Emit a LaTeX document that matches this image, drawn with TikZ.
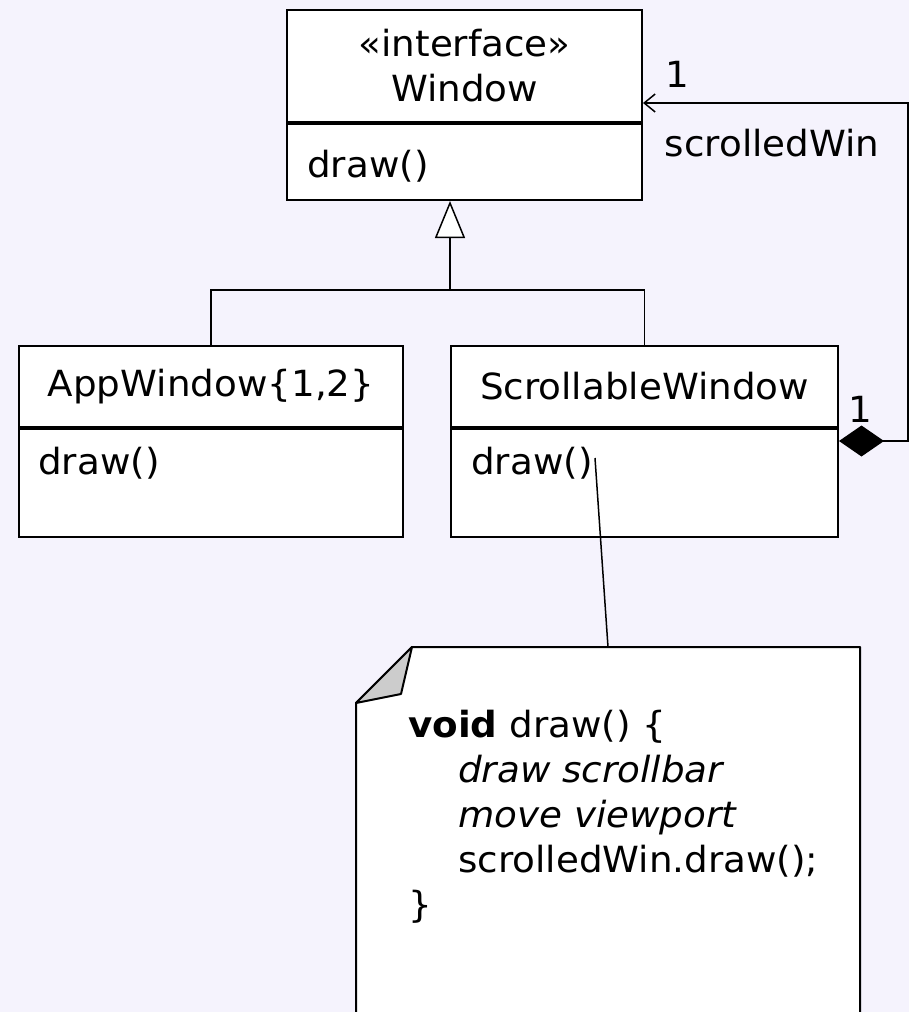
\documentclass[tikz,border=0pt]{standalone}
\usepackage{fontspec}
\setmainfont{DejaVu Sans}[FakeStretch=1.035]
\usetikzlibrary{arrows.meta,calc}
\definecolor{bg}{RGB}{245,243,253}
\definecolor{foldgray}{RGB}{204,204,204}
\begin{document}
\begin{tikzpicture}[x=1pt,y=-1pt,
  txt/.style={font=\fontsize{36}{45}\selectfont, inner sep=0pt},
  clsbox/.style={draw, line width=2pt, fill=white, inner sep=0pt, align=center,
    font=\fontsize{36}{45}\selectfont},
  link/.style={line width=1.5pt},
  inherit/.style={link, -{Triangle[open, length=37pt, width=30pt, fill=white]}},
  compose/.style={link, {Diamond[length=45pt, width=31pt]}-{Straight Barb[length=11pt, width=18pt, line width=1.5pt]}}
]
% page and background
\fill[bg] (0,0) rectangle (909,1012);
\useasboundingbox (0,0) rectangle (909,1012);
\clip (0,0) rectangle (909,1012);

% interface Window
\node[clsbox, minimum width=355pt, minimum height=112pt] (winH) at (464.5,66)
  {«interface»\\Window};
\node[clsbox, minimum width=355pt, minimum height=76pt, anchor=north] (winB) at (winH.south) {};
\node[txt, anchor=west] (winOp) at (307,166) {draw()};

% AppWindow{1,2}
\node[clsbox, minimum width=384pt, minimum height=81pt] (appH) at (211,386.5) {AppWindow\{1,2\}};
\node[clsbox, minimum width=384pt, minimum height=108pt, anchor=north] (appB) at (appH.south) {};
\node[txt, anchor=west] (appOp) at (38,463) {draw()};

% ScrollableWindow
\node[clsbox, minimum width=387pt, minimum height=81pt] (scrH) at (644.5,386.5) {ScrollableWindow};
\node[clsbox, minimum width=387pt, minimum height=108pt, anchor=north] (scrB) at (scrH.south) {};
\node[txt, anchor=west] (scrOp) at (471,463) {draw()};

% generalization
\coordinate (gen) at (450,290);
\draw[link] (appH.north) |- (gen) -| (scrH.north);
\draw[inherit] (gen) -- (gen |- winB.south);

% composition scrolledWin
\coordinate (compStart) at ($(scrB.north east)+(0,13)$);
\coordinate (compEnd) at ($(winH.north east)+(0,94)$);
\coordinate (rightRail) at (908,0);
\draw[compose] (compStart) -- (compStart -| rightRail) |- (compEnd);
\node[txt] (multTop) at (677,74) {1};
\node[txt] (roleName) at (772,143) {scrolledWin};
\node[txt] (multBottom) at (860,409) {1};

% note
\coordinate (nA) at (412,647);
\coordinate (nB) at (860,647);
\coordinate (nC) at (860,1030);
\coordinate (nD) at (356,1030);
\coordinate (nE) at (356,703);
\coordinate (nF) at (401,694);
\draw[line width=2pt, fill=white, line join=round] (nA) -- (nB) -- (nC) -- (nD) -- (nE) -- cycle;
\draw[line width=2pt, fill=foldgray, line join=round] (nA) -- (nF) -- (nE) -- cycle;
\node[txt, anchor=north west, align=left] (noteText) at (408,710)
  {\textbf{void} draw() \{\\
   \hspace*{50pt}\textit{draw scrollbar}\\
   \hspace*{50pt}\textit{move viewport}\\
   \hspace*{50pt}scrolledWin.draw();\\
   \}};
\coordinate (noteTop) at (608,647);
\coordinate (noteLink) at (595,458);
\draw[link] (noteLink) -- (noteTop);
\end{tikzpicture}
\end{document}
